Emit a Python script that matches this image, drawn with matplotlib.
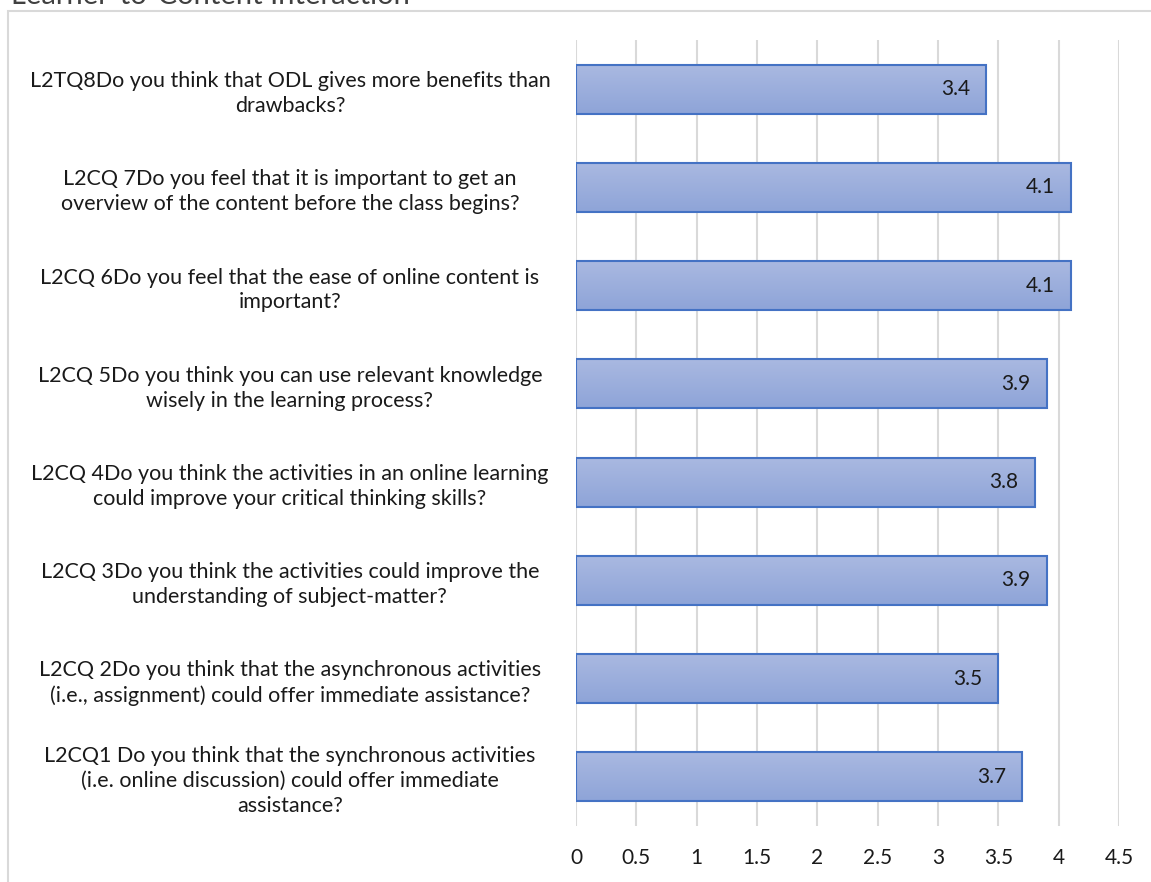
import matplotlib
matplotlib.use("Agg")
import matplotlib.pyplot as plt
import matplotlib.patches as mpatches
import numpy as np
from matplotlib.colors import LinearSegmentedColormap

plt.rcParams['font.family'] = ['Lato', 'DejaVu Sans']

title = "Learner-to-Content Interaction"
categories = [
    "L2CQ1 Do you think that the synchronous activities\n(i.e. online discussion) could offer immediate\nassistance?",
    "L2CQ 2Do you think that the asynchronous activities\n(i.e., assignment) could offer immediate assistance?",
    "L2CQ 3Do you think the activities could improve the\nunderstanding of subject-matter?",
    "L2CQ 4Do you think the activities in an online learning\ncould improve your critical thinking skills?",
    "L2CQ 5Do you think you can use relevant knowledge\nwisely in the learning process?",
    "L2CQ 6Do you feel that the ease of online content is\nimportant?",
    "L2CQ 7Do you feel that it is important to get an\noverview of the content before the class begins?",
    "L2TQ8Do you think that ODL gives more benefits than\ndrawbacks?",
]
values = [3.7, 3.5, 3.9, 3.8, 3.9, 4.1, 4.1, 3.4]
xticks = [0, 0.5, 1, 1.5, 2, 2.5, 3, 3.5, 4, 4.5]
xticklabels = ["0", "0.5", "1", "1.5", "2", "2.5", "3", "3.5", "4", "4.5"]

W, H = 1151, 882
fig = plt.figure(figsize=(W / 100, H / 100), dpi=100)
fig.patch.set_facecolor('white')

# outer chart border (right and bottom edges fall outside the picture)
border = mpatches.Rectangle((8 / W, -0.2), 1.2, 1.2 - 11 / H, transform=fig.transFigure,
                            fill=False, edgecolor='#D9D9D9', linewidth=1.5, clip_on=False)
fig.patches.append(border)

fig.text(11 / W, 1 - 4 / H, title, fontsize=21, ha='left', va='baseline', color='#404040')

left, right, top, bottom = 576 / W, 1119 / W, 1 - 40 / H, 1 - 826 / H
ax = fig.add_axes([left, bottom, right - left, top - bottom])

y = np.arange(len(categories))
bars = ax.barh(y, values, height=0.5, color='none', edgecolor='#4472C4', linewidth=1.5, zorder=3)

cmap = LinearSegmentedColormap.from_list('g', ['#8EA4D8', '#AAB9E1'])
grad = np.linspace(0, 1, 256).reshape(-1, 1)
for b in bars:
    x0, y0 = b.get_x(), b.get_y()
    w, h = b.get_width(), b.get_height()
    im = ax.imshow(grad, extent=[x0, x0 + w, y0, y0 + h], origin='lower', aspect='auto',
                   cmap=cmap, zorder=2)
    im.set_clip_path(b)

for yi, v in zip(y, values):
    ax.annotate(f"{v}", xy=(v, yi), xytext=(-16, 0), textcoords='offset pixels',
                ha='right', va='center', fontsize=15, color='#1a1a1a', zorder=4)

ax.set_xlim(0, 4.5)
ax.set_ylim(-0.5, len(categories) - 0.5)
ax.set_xticks(xticks)
ax.set_xticklabels(xticklabels, fontsize=15, color='#1a1a1a')
ax.set_yticks(y)
ax.set_yticklabels(categories, fontsize=15.5, color='#1a1a1a', ha='center', linespacing=1.3)
ax.tick_params(axis='y', length=0, pad=206)
ax.tick_params(axis='x', length=0, pad=16)
ax.grid(axis='x', color='#D9D9D9', linewidth=1.5, zorder=0)
ax.set_axisbelow(True)
for s in ax.spines.values():
    s.set_visible(False)

fig.savefig("out.png", dpi=100, facecolor='white')
